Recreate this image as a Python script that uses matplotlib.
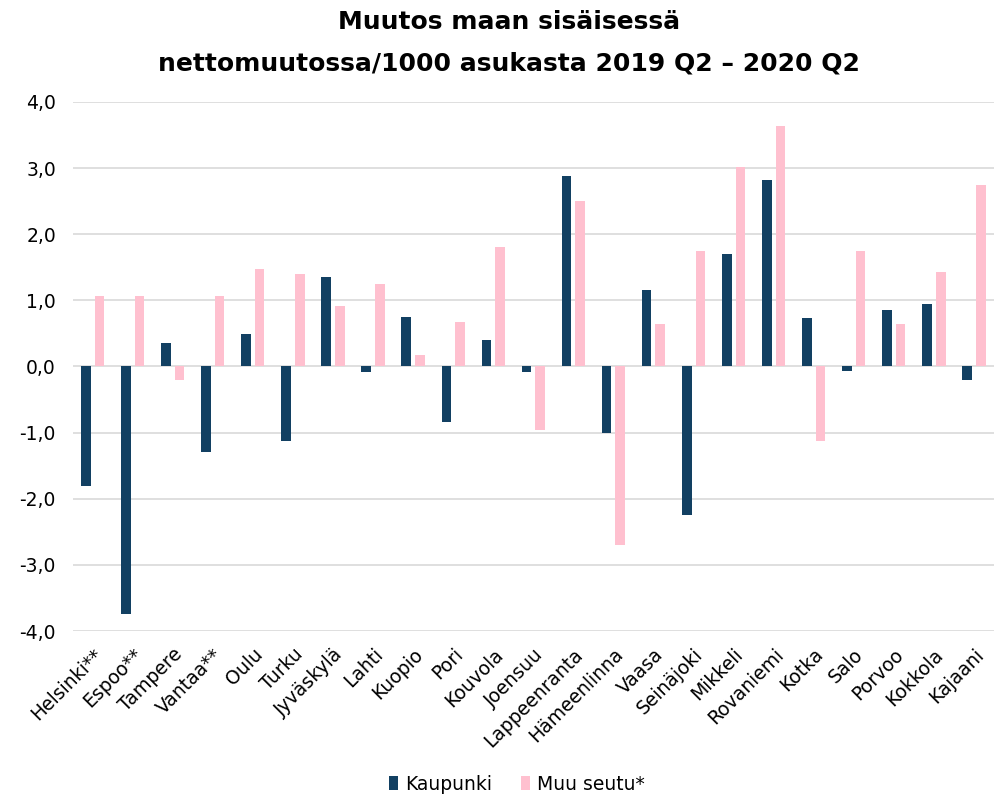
import numpy as np
import matplotlib
matplotlib.use("Agg")
import matplotlib.pyplot as plt

# kaupungit ja arvot (muutos / 1000 asukasta)
kaupungit = ["Helsinki**", "Espoo**", "Tampere", "Vantaa**", "Oulu", "Turku",
             "Jyväskylä", "Lahti", "Kuopio", "Pori", "Kouvola", "Joensuu",
             "Lappeenranta", "Hämeenlinna", "Vaasa", "Seinäjoki", "Mikkeli",
             "Rovaniemi", "Kotka", "Salo", "Porvoo", "Kokkola", "Kajaani"]
kaupunki = [-1.80, -3.74, 0.36, -1.30, 0.49, -1.12, 1.35, -0.09, 0.75, -0.84,
            0.40, -0.09, 2.88, -1.00, 1.15, -2.24, 1.70, 2.82, 0.73, -0.07,
            0.86, 0.95, -0.20]
muu_seutu = [1.07, 1.07, -0.20, 1.07, 1.48, 1.40, 0.92, 1.24, 0.17, 0.67,
             1.80, -0.96, 2.50, -2.70, 0.65, 1.75, 3.02, 3.63, -1.12, 1.75,
             0.65, 1.43, 2.74]
y_ticks = [-4, -3, -2, -1, 0, 1, 2, 3, 4]

tumma = "#124062"
pinkki = "#FFC0CF"

fig = plt.figure(figsize=(9.94, 8.01), dpi=100)
ax = fig.add_axes([0.073, 0.2122, 0.927, 0.6605])

x = np.arange(len(kaupungit))
w = 0.24
ax.bar(x - 0.17, kaupunki, w, color=tumma, label="Kaupunki", zorder=3)
ax.bar(x + 0.17, muu_seutu, w, color=pinkki, label="Muu seutu*", zorder=3)

ax.set_ylim(-4, 4)
ax.set_xlim(-0.5, len(kaupungit) - 0.5)
ax.set_yticks(y_ticks)
ax.set_yticklabels([("%.1f" % v).replace(".", ",") for v in y_ticks], fontsize=13.5)
ax.yaxis.grid(True, color="#D9D9D9", linewidth=1.2, zorder=0)
ax.set_axisbelow(True)
ax.tick_params(length=0, pad=12)
ax.set_xticks(x)
ax.set_xticklabels(kaupungit, rotation=45, ha="right", rotation_mode="anchor", fontsize=13.5)
ax.tick_params(axis="x", pad=10)
for s in ax.spines.values():
    s.set_visible(False)

fig.text(0.512, 0.987, "Muutos maan sisäisessä\nnettomuutossa/1000 asukasta 2019 Q2 – 2020 Q2",
         ha="center", va="top", fontsize=18, fontweight="bold", linespacing=1.9)

fig.legend(loc="lower center", bbox_to_anchor=(0.52, -0.012), ncol=2, frameon=False,
           fontsize=13.5, handlelength=0.5, handleheight=0.8, handletextpad=0.4,
           columnspacing=1.5)

fig.savefig("out.png", dpi=100)
